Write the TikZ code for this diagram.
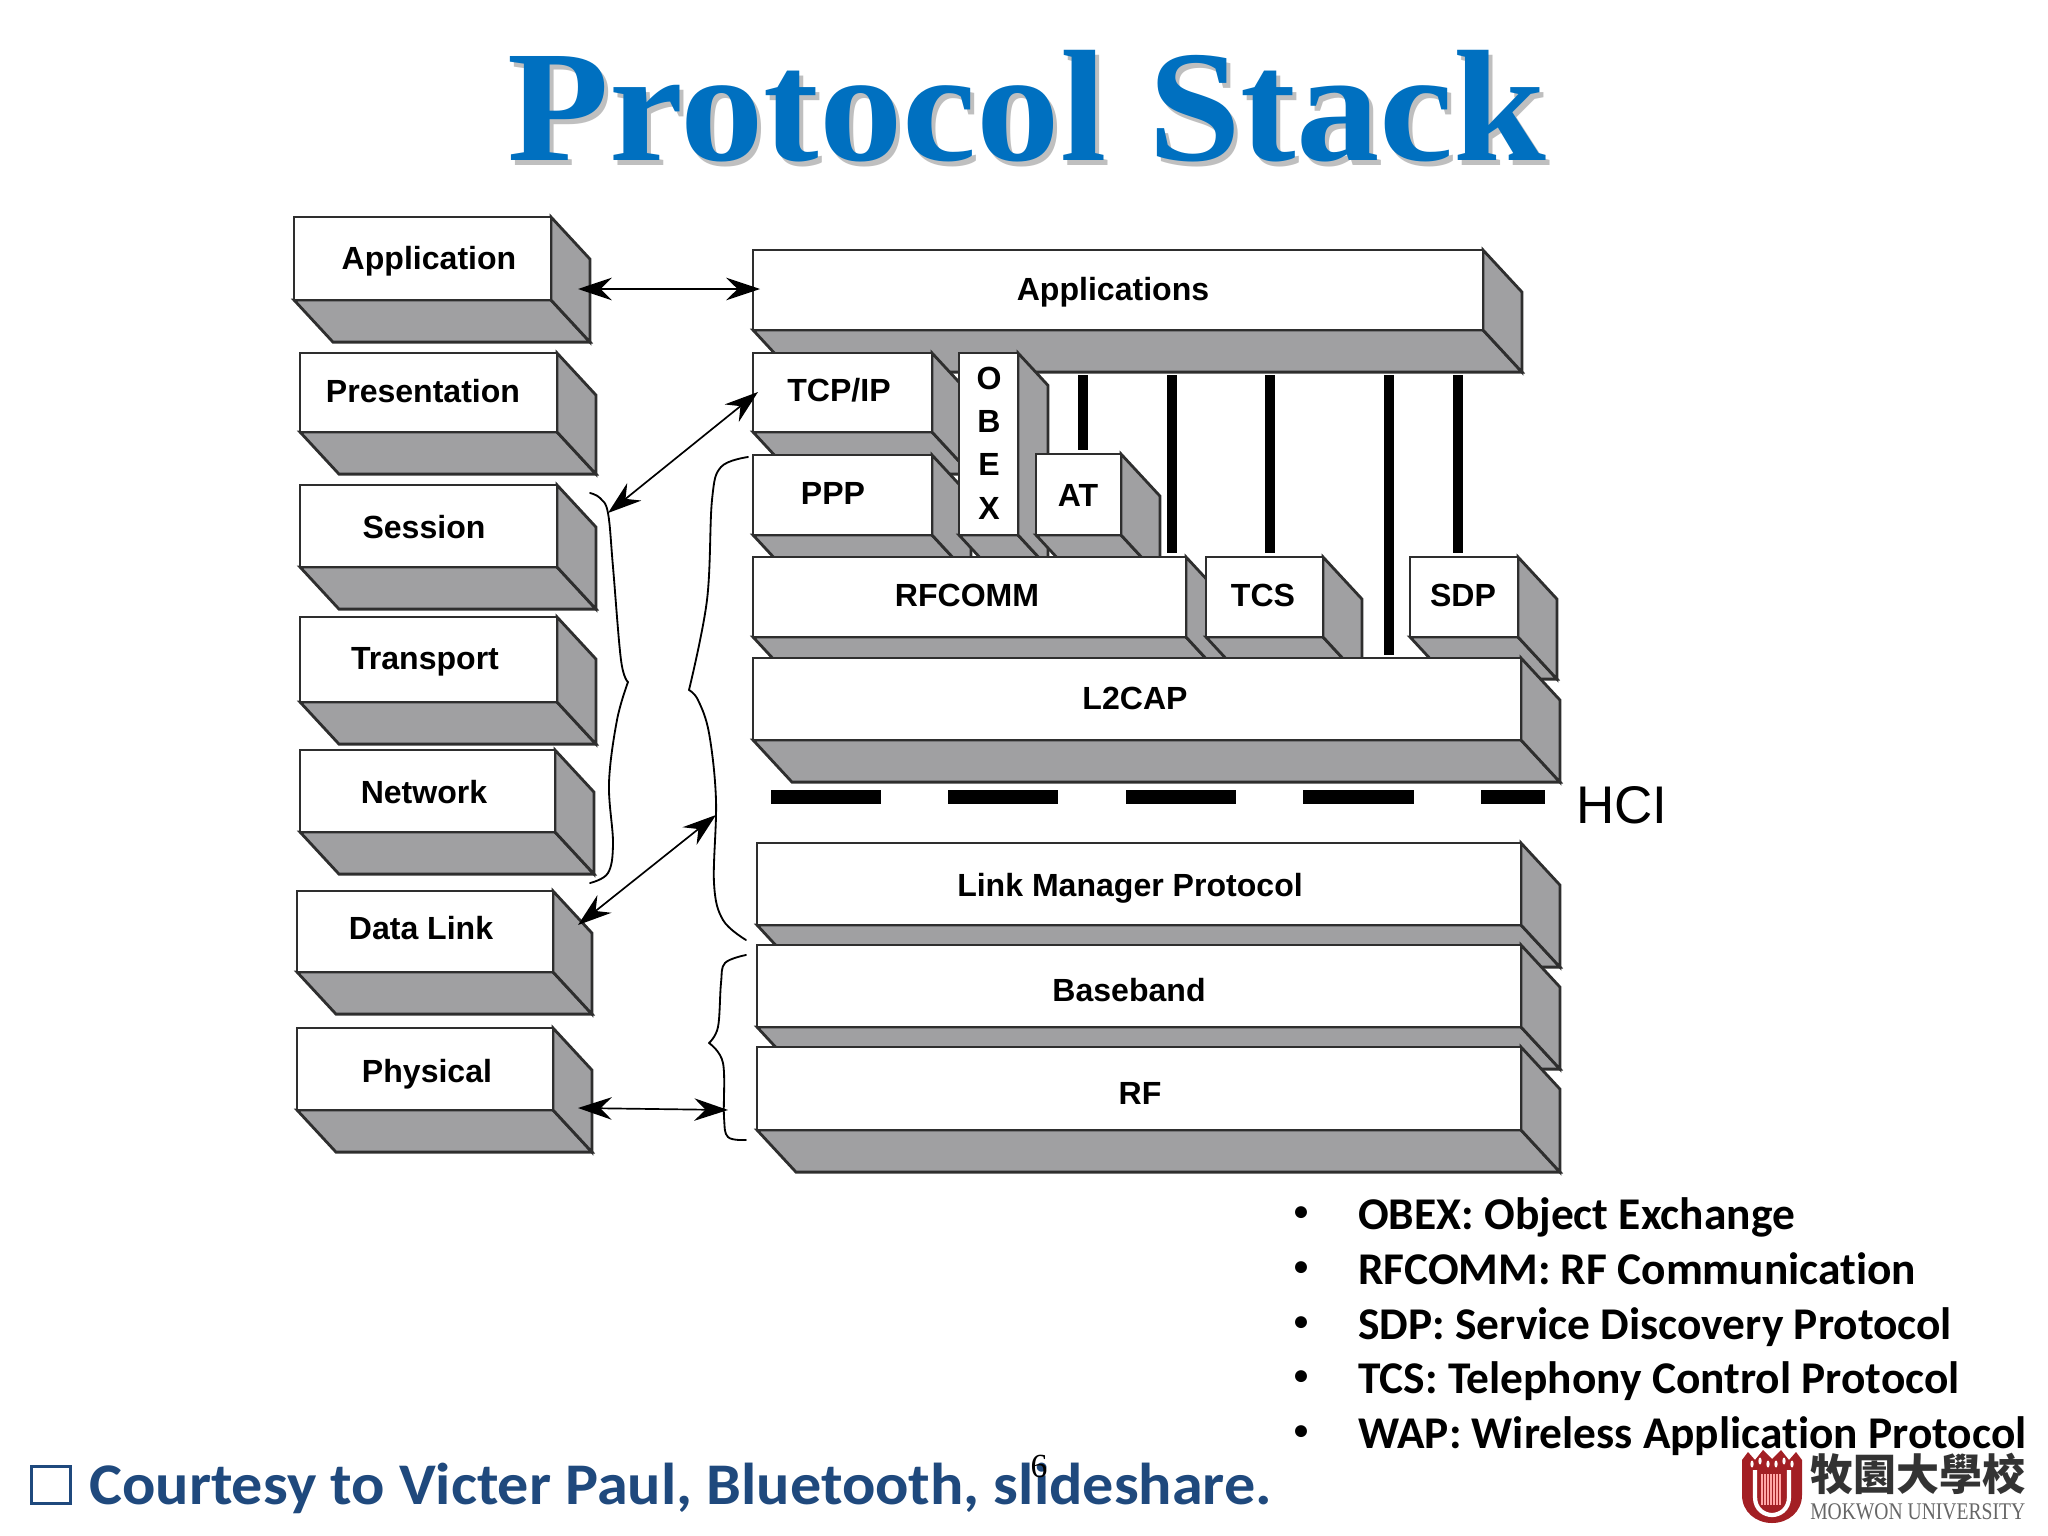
\documentclass[tikz,border=0pt]{standalone}
\usepackage{fontspec}
\setmainfont{Liberation Sans}
\newfontfamily\titlefont{Liberation Serif}
\newfontfamily\notefont[Ligatures={NoCommon,NoRequired,NoContextual}]{Carlito}
\newfontfamily\cjkfont{Noto Sans CJK TC}
\usetikzlibrary{arrows.meta}
\definecolor{shadeGray}{HTML}{A0A0A2}
\definecolor{lineGray}{HTML}{2E2E2E}
\definecolor{titleBlue}{HTML}{0070C0}
\definecolor{footBlue}{HTML}{1F497D}
\definecolor{emblemRed}{HTML}{A31F24}
\tikzset{
    face/.style={draw=lineGray,line width=2pt,line join=miter,fill=white},
    shade/.style={draw=lineGray,line width=2pt,line join=miter,fill=shadeGray},
    blocklabel/.style={inner sep=0pt,text depth=0pt,font=\bfseries\fontsize{22.8}{31.3}\selectfont},
    link/.style={line width=1.2pt,{Stealth[length=24pt,width=16pt,inset=8pt]}-{Stealth[length=24pt,width=16pt,inset=8pt]}},
    brace/.style={line width=1.3pt,line cap=round},
    note/.style={anchor=base west,inner sep=0pt,font=\notefont\bfseries\fontsize{32.3}{34}\selectfont},
}
% #1 depth, #2 name, #3-#6 front face, #7-#8 label position, #9 label
\newcommand*{\stackBlock}[9][39]{
    \draw[shade] (#3,#6) -- (#5,#6) -- ({#5+#1},{#6+1.08*#1}) -- ({#3+#1},{#6+1.08*#1}) -- cycle;
    \draw[shade] (#5,#4) -- ({#5+#1},{#4+1.08*#1}) -- ({#5+#1},{#6+1.08*#1}) -- (#5,#6) -- cycle;
    \draw[face] (#3,#4) rectangle (#5,#6);
    \node[blocklabel] (#2) at (#7,#8) {#9};
}
\begin{document}
\begin{tikzpicture}[x=0.25mm,y=-0.25mm]
    \useasboundingbox (0,0) rectangle (2048,1536);
    % title
    \node[anchor=base,inner sep=0pt,text=gray!50,xscale=1.05,transform shape,font=\titlefont\bfseries\fontsize{113}{120}\selectfont] (titleshadow) at (1031,165) {Protocol Stack};
    \node[anchor=base,inner sep=0pt,text=titleBlue,xscale=1.05,transform shape,font=\titlefont\bfseries\fontsize{113}{120}\selectfont] (title) at (1027,160) {Protocol Stack};
    % OSI column
    \stackBlock{application}{294}{217}{551}{300}{429}{258}{Application}
    \stackBlock{presentation}{300}{353}{557}{432}{423}{391}{Presentation}
    \stackBlock{session}{300}{485}{557}{567}{424}{527}{Session}
    \stackBlock{transport}{300}{617}{557}{702}{425}{658}{Transport}
    \stackBlock{network}{300}{750}{555}{832}{424}{792}{Network}
    \stackBlock{datalink}{297}{891}{553}{972}{421}{928}{Data Link}
    \stackBlock{physical}{297}{1028}{553}{1110}{427}{1071}{Physical}
    % bluetooth stack
    \stackBlock{applications}{753}{250}{1483}{330}{1113}{289}{Applications}
    \foreach \barX/\barY in {1083/450,1172/553,1270/553,1389/655,1458/553} {
        \draw[line width=7pt] (\barX,375) -- (\barX,\barY);
    }
    \stackBlock{tcpip}{753}{353}{932}{432}{839}{390}{TCP/IP}
    \stackBlock{ppp}{753}{455}{932}{535}{833}{493}{PPP}
    \stackBlock[30]{obex}{959}{353}{1018}{535}{989}{443}{\shortstack{O\\[12pt]B\\[12pt]E\\[12pt]X}}
    \stackBlock{at}{1036}{454}{1121}{535}{1078}{495}{AT}
    \stackBlock{rfcomm}{753}{557}{1186}{637}{967}{595}{RFCOMM}
    \stackBlock{tcs}{1206}{557}{1323}{637}{1263}{595}{TCS}
    \stackBlock{sdp}{1410}{557}{1518}{637}{1463}{595}{SDP}
    \stackBlock{ltcap}{753}{658}{1521}{740}{1135}{698}{L2CAP}
    \foreach \dashA/\dashB in {771/881,948/1058,1126/1236,1303/1414,1481/1545} {
        \fill (\dashA,790) rectangle (\dashB,804);
    }
    \node[inner sep=0pt,font=\fontsize{37.7}{40}\selectfont] (hci) at (1622,805) {HCI};
    \stackBlock{lmp}{757}{843}{1521}{925}{1130}{885}{Link Manager Protocol}
    \stackBlock{baseband}{757}{945}{1521}{1027}{1129}{990}{Baseband}
    \stackBlock{rf}{757}{1047}{1521}{1130}{1140}{1093}{RF}
    % braces
    \draw[brace] plot[smooth,tension=0.6] coordinates {(590,493) (600,498) (608,513) (613,567) (621,660) (628,682)};
    \draw[brace] plot[smooth,tension=0.6] coordinates {(628,682) (617,720) (609,783) (613,843) (608,873) (590,883)};
    \draw[brace] plot[smooth,tension=0.6] coordinates {(748,457) (721,467) (712,500) (707,600) (689,690)};
    \draw[brace] plot[smooth,tension=0.6] coordinates {(689,690) (698,700) (709,733) (716,800) (714,883) (723,920) (746,940)};
    \draw[brace] plot[smooth,tension=0.6] coordinates {(746,955) (725,963) (721,983) (718,1027) (709,1043)};
    \draw[brace] plot[smooth,tension=0.6] coordinates {(709,1043) (723,1063) (724,1117) (728,1137) (746,1140)};
    % links between the two columns
    \coordinate (appEnd) at (578,289);
    \coordinate (appsEnd) at (760,289);
    \coordinate (upperBrace) at (608,513);
    \coordinate (tcpEnd) at (758,392);
    \coordinate (linkEnd) at (578,925);
    \coordinate (midBrace) at (716,815);
    \coordinate (phyEnd) at (578,1108);
    \coordinate (lowBrace) at (728,1110);
    \draw[link] (appEnd) -- (appsEnd);
    \draw[link] (upperBrace) -- (tcpEnd);
    \draw[link] (linkEnd) -- (midBrace);
    \draw[link] (phyEnd) -- (lowBrace);
    % acronyms
    \foreach \i/\yy/\txt in {1/1229/OBEX: Object Exchange,2/1284/RFCOMM: RF Communication,3/1339/SDP: Service Discovery Protocol,4/1393/TCS: Telephony Control Protocol,5/1448/WAP: Wireless Application Protocol} {
        \node[inner sep=0pt,font=\notefont\bfseries\fontsize{20}{22}\selectfont] (bullet\i) at (1301,\yy-15) {\textbullet};
        \node[note] (item\i) at (1358,\yy) {\txt};
    }
    % footer
    \node[draw=footBlue,line width=2.2pt,inner sep=0pt,minimum width=27.2pt,minimum height=26.5pt] (checkbox) at (51,1485) {};
    \node[anchor=base west,inner sep=0pt,text=footBlue,xscale=1.053,transform shape,font=\notefont\bfseries\fontsize{42}{45}\selectfont] (courtesy) at (89,1504) {Courtesy to Victer Paul, Bluetooth, slideshare.};
    \node[inner sep=0pt,font=\titlefont\fontsize{24}{26}\selectfont] (pagenum) at (1039,1466) {6};
    % logo
    \fill[emblemRed] (1742,1460) -- (1748,1452) -- (1755,1460) -- (1763,1450) -- (1772,1459) -- (1781,1450) -- (1789,1460) -- (1796,1452) -- (1802,1460)
        -- (1802,1495) .. controls (1802,1512) and (1788,1523) .. (1772,1523) .. controls (1756,1523) and (1742,1512) .. (1742,1495) -- cycle;
    \foreach \stripeX in {1762,1765,...,1782} {
        \draw[line width=1.2pt,red!35!white] (\stripeX,1474) -- (\stripeX,1505);
    }
    \draw[white,line width=3pt] (1755,1470) -- (1755,1497) .. controls (1755,1510) and (1765,1515) .. (1772,1515) .. controls (1779,1515) and (1789,1510) .. (1789,1497) -- (1789,1470);
    \foreach \leafX/\leafY in {1752/1464,1760/1461,1768/1464,1776/1464,1784/1461,1792/1464} {
        \fill[white] (\leafX,\leafY) ellipse (1.6 and 3.5);
    }
    \node[anchor=west,inner sep=0pt,text=black!80,font=\cjkfont\bfseries\fontsize{30.6}{33}\selectfont] (logotext) at (1810,1474) {牧園大學校};
    \node[anchor=base west,inner sep=0pt,text=black!60,xscale=0.82,transform shape,font=\titlefont\fontsize{17}{19}\selectfont] (logoname) at (1810,1519) {MOKWON UNIVERSITY};
\end{tikzpicture}
\end{document}
